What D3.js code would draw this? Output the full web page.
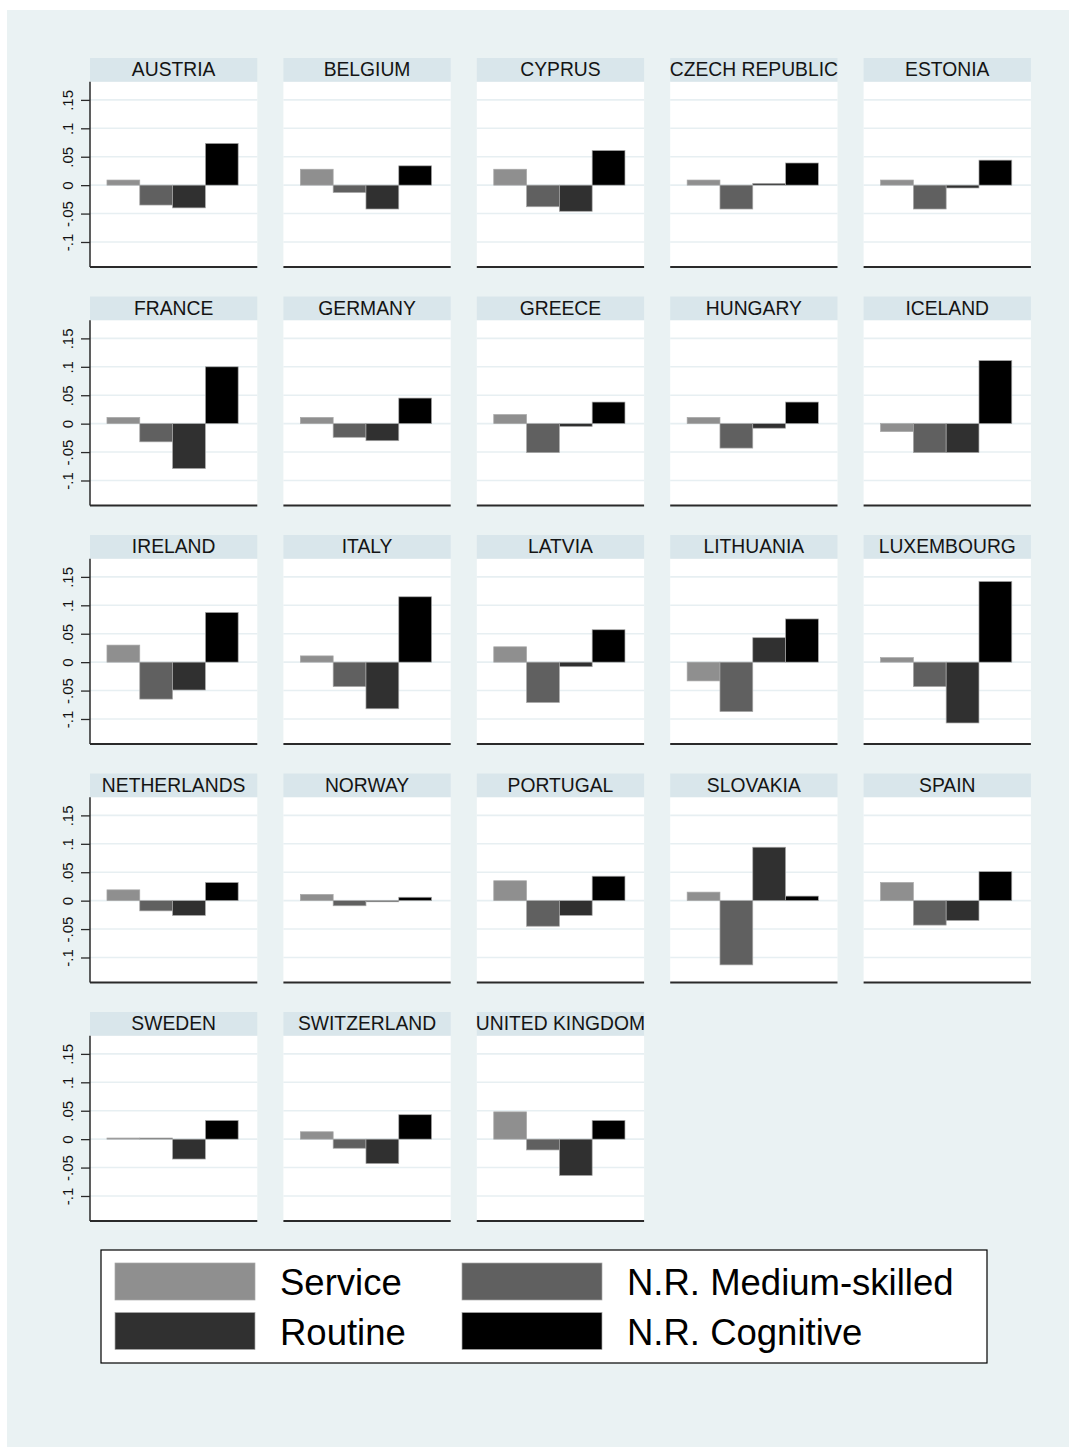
<!DOCTYPE html>
<html>
<head>
<meta charset="utf-8">
<script src="https://cdn.jsdelivr.net/npm/d3@7"></script>
<style>
  html, body { margin: 0; padding: 0; background: #ffffff; }
  svg { display: block; font-family: "Liberation Sans", Arial, sans-serif; }
</style>
</head>
<body>
<svg id="chart" width="1069" height="1447"></svg>
<script>
// Change in employment shares by occupation group, per country
const countries = [
  "AUSTRIA", "BELGIUM", "CYPRUS", "CZECH REPUBLIC", "ESTONIA",
  "FRANCE", "GERMANY", "GREECE", "HUNGARY", "ICELAND",
  "IRELAND", "ITALY", "LATVIA", "LITHUANIA", "LUXEMBOURG",
  "NETHERLANDS", "NORWAY", "PORTUGAL", "SLOVAKIA", "SPAIN",
  "SWEDEN", "SWITZERLAND", "UNITED KINGDOM"
];
const service = [
  0.009, 0.028, 0.028, 0.009, 0.009,
  0.011, 0.011, 0.016, 0.011, -0.014,
  0.030, 0.011, 0.027, -0.033, 0.008,
  0.019, 0.011, 0.035, 0.015, 0.032,
  0.002, 0.013, 0.048
];
const medSkilled = [
  -0.035, -0.013, -0.038, -0.042, -0.042,
  -0.032, -0.024, -0.051, -0.043, -0.051,
  -0.065, -0.043, -0.071, -0.087, -0.043,
  -0.018, -0.009, -0.045, -0.113, -0.043,
  0.002, -0.016, -0.019
];
const routine = [
  -0.040, -0.042, -0.046, 0.003, -0.005,
  -0.079, -0.030, -0.005, -0.008, -0.051,
  -0.049, -0.082, -0.008, 0.043, -0.107,
  -0.026, -0.002, -0.026, 0.094, -0.035,
  -0.035, -0.043, -0.064
];
const cognitive = [
  0.0735, 0.034, 0.061, 0.039, 0.044,
  0.100, 0.045, 0.038, 0.038, 0.111,
  0.0875, 0.115, 0.057, 0.076, 0.142,
  0.032, 0.006, 0.043, 0.008, 0.051,
  0.033, 0.043, 0.033
];
const seriesNames = ["Service", "N.R. Medium-skilled", "Routine", "N.R. Cognitive"];
const seriesColors = ["#8f8f8f", "#606060", "#303030", "#000000"];
const yTicks = [0.15, 0.1, 0.05, 0, -0.05, -0.1];
const yTickLabels = [".15", ".1", ".05", "0", "-.05", "-.1"];

const seriesValues = [service, medSkilled, routine, cognitive];

const svg = d3.select("#chart");

// page background
svg.append("rect")
  .attr("x", 7).attr("y", 10).attr("width", 1062).attr("height", 1437)
  .attr("fill", "#eaf2f3");

// facet layout
const nCols = 5;
const colStep = 193.4, rowStep = 238.5;
const gridLeft = 90, gridTop = 58;
const panelW = 167.3, stripH = 23.7, panelH = 209;

const x = d3.scaleBand()
  .domain(d3.range(seriesNames.length))
  .range([0, panelW])
  .paddingInner(0)
  .paddingOuter(0.55)
  .align(0.47);

const y = d3.scaleLinear()
  .domain([-0.144, 0.182])
  .range([panelH, stripH]);

countries.forEach((name, i) => {
  const col = i % nCols, row = Math.floor(i / nCols);
  const g = svg.append("g")
    .attr("transform", `translate(${gridLeft + col * colStep},${gridTop + row * rowStep})`);

  // plot area
  g.append("rect")
    .attr("x", 0).attr("y", stripH)
    .attr("width", panelW).attr("height", panelH - stripH)
    .attr("fill", "#ffffff");

  // horizontal gridlines
  g.selectAll("line.grid")
    .data(yTicks)
    .join("line")
    .attr("class", "grid")
    .attr("x1", 0).attr("x2", panelW)
    .attr("y1", d => y(d)).attr("y2", d => y(d))
    .attr("stroke", "#e7eff2")
    .attr("stroke-width", 1.6);

  // strip header
  g.append("rect")
    .attr("x", 0).attr("y", 0)
    .attr("width", panelW).attr("height", stripH)
    .attr("fill", "#d9e6eb");
  g.append("text")
    .attr("x", panelW / 2).attr("y", stripH / 2 + 6.6)
    .attr("text-anchor", "middle")
    .attr("font-size", 19.3)
    .attr("fill", "#141414")
    .text(name);

  // bars
  const vals = seriesValues.map((s, k) => ({ k, v: s[i] }));
  g.selectAll("rect.bar")
    .data(vals)
    .join("rect")
    .attr("class", "bar")
    .attr("x", d => x(d.k))
    .attr("width", x.bandwidth())
    .attr("y", d => y(Math.max(0, d.v)))
    .attr("height", d => Math.abs(y(d.v) - y(0)))
    .attr("fill", d => seriesColors[d.k])
    .attr("stroke", "#a8a8a8")
    .attr("stroke-width", 0.7);

  // bottom axis line
  g.append("line")
    .attr("x1", 0).attr("x2", panelW)
    .attr("y1", panelH).attr("y2", panelH)
    .attr("stroke", "#2a2a2a")
    .attr("stroke-width", 2);

  // left axis on the first column only
  if (col === 0) {
    const axis = d3.axisLeft(y)
      .tickValues(yTicks)
      .tickFormat((d, j) => yTickLabels[j])
      .tickSize(9)
      .tickSizeOuter(0);
    const ax = g.append("g").call(axis);
    ax.select(".domain")
      .attr("d", `M0,${stripH}V${panelH}`)
      .attr("stroke", "#2a2a2a")
      .attr("stroke-width", 1.5);
    ax.selectAll(".tick line").attr("stroke", "#2a2a2a").attr("stroke-width", 1.3);
    ax.selectAll(".tick text")
      .attr("font-size", 15)
      .attr("font-family", "Liberation Sans, Arial, sans-serif")
      .attr("fill", "#111")
      .attr("text-anchor", "middle")
      .attr("x", 0).attr("y", 0).attr("dy", null)
      .attr("transform", "translate(-17.5,0) rotate(-90)");
  }
});

// legend
const legend = svg.append("g");
legend.append("rect")
  .attr("x", 101).attr("y", 1250).attr("width", 886).attr("height", 113)
  .attr("fill", "#ffffff").attr("stroke", "#000").attr("stroke-width", 1.2);

const legendPos = [[0, 0], [1, 0], [0, 1], [1, 1]];
legendPos.forEach(([c, r], k) => {
  const lx = 115 + c * 347, ly = 1263 + r * 49.5;
  legend.append("rect")
    .attr("x", lx).attr("y", ly).attr("width", 140).attr("height", 37)
    .attr("fill", seriesColors[k]).attr("stroke", "#a8a8a8").attr("stroke-width", 0.7);
  legend.append("text")
    .attr("x", lx + 165).attr("y", ly + 32)
    .attr("font-size", 36.5)
    .attr("fill", "#000")
    .text(seriesNames[k]);
});
</script>
</body>
</html>
